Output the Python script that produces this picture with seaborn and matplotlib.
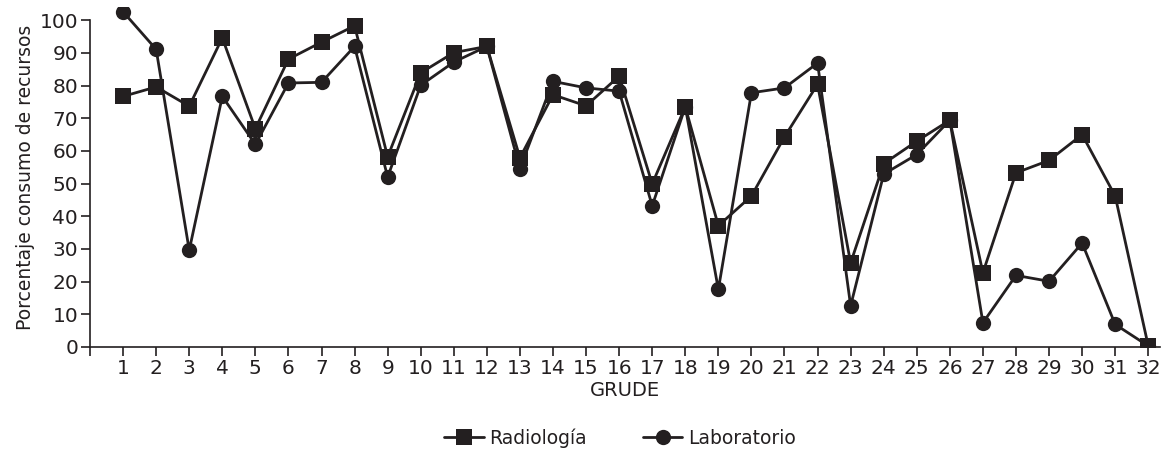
import matplotlib
matplotlib.use("Agg")
import matplotlib.pyplot as plt
import seaborn as sns
import pandas as pd
import numpy as np

grude = list(range(1, 33))
radiologia = [76.7, 79.6, 73.7, 94.6, 66.8, 88.1, 93.3, 98.3, 58.2, 83.9,
              90.1, 92.0, 57.9, 77.2, 73.8, 82.9, 49.9, 73.5, 37.1, 46.2,
              64.3, 80.4, 25.7, 56.1, 63.0, 69.4, 22.7, 53.3, 57.1, 65.0,
              46.2, 0.3]
laboratorio = [102.6, 91.1, 29.6, 76.7, 62.0, 80.8, 81.0, 92.0, 52.0, 80.1,
               87.2, 92.0, 54.6, 81.3, 79.3, 78.3, 43.2, 73.5, 17.6, 77.8,
               79.3, 86.9, 12.6, 52.9, 58.9, 69.4, 7.4, 21.9, 20.1, 31.8,
               6.9, 0.3]

ink = "#231f20"

sns.set_theme(style="ticks")
plt.rcParams["font.family"] = ["DejaVu Sans"]

fig = plt.figure(figsize=(11.66, 4.5), dpi=100)
ax = fig.add_axes([0.0772, 0.229, 0.9178, 0.755])

df_lab = pd.DataFrame({"GRUDE": grude, "valor": laboratorio})
df_rad = pd.DataFrame({"GRUDE": grude, "valor": radiologia})

# laboratorio first so the squares sit on top where they overlap
sns.lineplot(data=df_lab, x="GRUDE", y="valor", ax=ax, color=ink, lw=2,
             marker="o", markersize=11, markeredgewidth=0, label="Laboratorio",
             zorder=2)
sns.lineplot(data=df_rad, x="GRUDE", y="valor", ax=ax, color=ink, lw=2,
             marker="s", markersize=11.5, markeredgewidth=0, label="Radiología",
             zorder=3)

ax.set_xlim(0, 32.36)
ax.set_ylim(0, 104)
ax.set_yticks(np.arange(0, 101, 10))
ax.set_xticks(range(0, 33))
ax.set_xticklabels([""] + [str(g) for g in grude])
ax.tick_params(axis="both", colors=ink, labelcolor=ink, labelsize=14.5,
               length=6.5, width=1.2, direction="out", pad=2)
sns.despine(ax=ax)
for s in ["left", "bottom"]:
    ax.spines[s].set_color(ink)
    ax.spines[s].set_linewidth(1.2)
ax.spines["left"].set_bounds(0, 100)

ax.set_xlabel("GRUDE", fontsize=14, color=ink, labelpad=2)
ax.set_ylabel("Porcentaje consumo de recursos", fontsize=13.5, color=ink, labelpad=3)

handles, labels = ax.get_legend_handles_labels()
ax.legend_.remove()
order = [labels.index("Radiología"), labels.index("Laboratorio")]
fig.legend([handles[i] for i in order], [labels[i] for i in order],
           loc="center", bbox_to_anchor=(620 / 1166, 1 - 438 / 450), ncol=2,
           frameon=False, fontsize=13.5, handlelength=2.1, columnspacing=3,
           handletextpad=0.3, labelcolor=ink)

fig.savefig("out.png", dpi=100)
